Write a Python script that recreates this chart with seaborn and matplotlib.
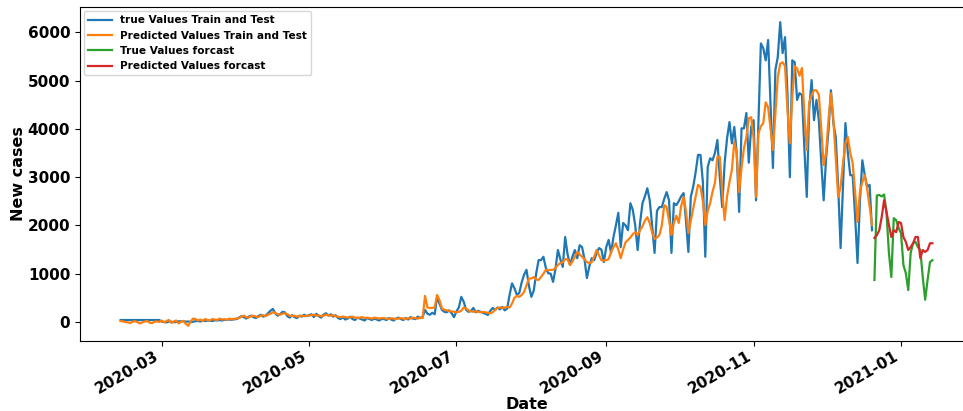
import matplotlib
matplotlib.use("Agg")
import matplotlib.pyplot as plt
import matplotlib.dates as mdates
import numpy as np
import pandas as pd
import seaborn as sns

# Daily new cases (train + test period), month by month
feb_true = [40, 40, 40, 40, 40, 40, 40, 40, 40, 40, 40, 40, 40, 40, 40, 40, 40]
feb_pred = [20, 10, 0, -10, -20, 5, 15, -5, -30, -10, 10, 20, -15, -25, 5, 10, 0]

mar_true = [5, 0, -10, 10, 5, -5, 0, 15, 10, 20, 5, 10, 0, 5, 15, 20, 10, 25, 20, 30,
            25, 20, 35, 30, 40, 30, 45, 40, 50, 45, 55]
mar_pred = [30, -10, 20, 40, -20, 10, 30, -30, 0, 20, -40, -80, 10, 70, 60, 30, 50, 20, 60, 40,
            30, 60, 50, 40, 70, 50, 60, 40, 70, 55, 65]

apr_true = [60, 90, 120, 100, 70, 110, 130, 100, 80, 120, 150, 110, 130, 180, 230, 270, 180, 130,
            160, 210, 200, 120, 90, 140, 100, 80, 130, 110, 150, 120]
apr_pred = [70, 80, 110, 130, 100, 90, 120, 130, 110, 100, 130, 140, 120, 150, 170, 200, 190, 160,
            150, 170, 180, 160, 130, 120, 130, 110, 120, 130, 120, 130]

may_true = [140, 160, 100, 170, 120, 90, 150, 180, 130, 160, 110, 140, 80, 60, 100, 50, 70, 110,
            60, 40, 90, 70, 50, 30, 80, 60, 40, 70, 50, 30, 60]
may_pred = [130, 140, 150, 130, 140, 120, 130, 150, 140, 130, 140, 120, 110, 100, 110, 100, 90, 100,
            110, 90, 80, 90, 100, 80, 90, 80, 70, 90, 80, 70, 80]

jun_true = [60, 40, 80, 50, 30, 70, 90, 60, 40, 80, 50, 100, 70, 60, 110, 80, 100, 250, 170, 150,
            190, 160, 520, 380, 250, 210, 200, 240, 180, 100]
jun_pred = [80, 70, 60, 80, 70, 60, 70, 80, 70, 60, 80, 70, 90, 80, 70, 90, 80, 540, 300, 290,
            290, 300, 560, 450, 280, 250, 240, 230, 220, 210]

jul_true = [220, 300, 520, 420, 250, 210, 230, 290, 200, 230, 210, 190, 170, 145, 230, 290, 250, 300,
            260, 310, 240, 280, 560, 800, 700, 560, 600, 820, 980, 1080, 750]
jul_pred = [200, 210, 230, 300, 280, 240, 220, 210, 220, 210, 200, 210, 200, 190, 180, 200, 250, 290,
            300, 290, 300, 310, 300, 380, 500, 540, 520, 560, 620, 760, 900]

aug_true = [520, 650, 1000, 1280, 1280, 1350, 1120, 1010, 1000, 830, 1100, 1490, 1300, 1140, 1760,
            1400, 1180, 1350, 1490, 1320, 1590, 1550, 1300, 910, 1150, 1320, 1280, 1420, 1530, 1500, 1240]
aug_pred = [900, 930, 880, 870, 930, 1000, 1080, 1070, 1080, 1080, 1120, 1180, 1220, 1240, 1300,
            1300, 1180, 1250, 1350, 1450, 1400, 1350, 1300, 1240, 1220, 1240, 1350, 1490, 1380, 1280, 1270]

sep_true = [1550, 1700, 1430, 1760, 2000, 2260, 1550, 2050, 2000, 1900, 2460, 2320, 2000, 1490, 2050,
            2460, 2600, 2770, 2520, 2000, 1430, 2300, 2380, 2380, 2550, 2690, 2520, 1430, 2460, 2420]
sep_pred = [1280, 1300, 1450, 1550, 1630, 1500, 1320, 1500, 1650, 1700, 1750, 1820, 1860, 1800, 1900,
            1980, 2100, 2170, 2050, 1850, 1720, 1750, 1800, 2000, 2420, 2380, 2100, 1800, 2050, 2200]

oct_true = [2500, 2600, 2670, 2100, 1450, 2590, 2800, 3100, 3460, 3460, 2900, 1350, 3210, 3390, 3350,
            3500, 3770, 3000, 2380, 3290, 3800, 4140, 3700, 4040, 3500, 2280, 4010, 4010, 4330, 3300, 4040]
oct_pred = [2050, 2400, 2590, 2300, 1840, 2100, 2350, 2600, 2840, 2800, 2500, 2010, 2300, 2460, 2700,
            2880, 3420, 3420, 2700, 2110, 2600, 2900, 3150, 3730, 3500, 2690, 3200, 3600, 3830, 4220, 4240]

nov_true = [4180, 2520, 4180, 5770, 5670, 5420, 5840, 4500, 3190, 5220, 5490, 6210, 5570, 5900, 4740,
            3000, 5420, 5380, 4600, 4740, 4700, 3600, 2590, 4400, 5010, 4180, 4600, 4180, 3300, 2520]
nov_pred = [3800, 2590, 3910, 4050, 4120, 4550, 4450, 4000, 3560, 4300, 5070, 5350, 5380, 5300, 4400,
            3700, 4660, 5300, 5250, 5100, 5260, 4300, 3560, 4550, 4700, 4800, 4800, 4700, 4000, 3250]

dec_true = [3400, 3970, 4800, 4120, 3830, 2800, 1530, 2800, 4120, 3500, 3040, 3040, 2200, 1220, 2500,
            3350, 3040, 2800, 2840, 1900]
dec_pred = [3500, 4200, 4740, 4200, 3400, 2590, 2800, 3300, 3700, 3830, 3500, 3290, 2700, 2070, 2700,
            2900, 3040, 2750, 2400, 2010]

# Forecast horizon (starts the day after the train/test period)
forecast_true = [870, 2620, 2630, 2600, 2640, 2260, 1430, 930, 2150, 2110, 1950, 1840, 1180, 1010,
                 660, 1430, 1630, 1660, 1550, 1490, 930, 460, 870, 1240, 1280]
forecast_pred = [1740, 1800, 1900, 2170, 2520, 2280, 2010, 1760, 1900, 1860, 2070, 2050, 1760, 1660,
                 1490, 1550, 1630, 1760, 1760, 1320, 1490, 1450, 1490, 1630, 1630]

train_start = "2020-02-13"

true_vals = (feb_true + mar_true + apr_true + may_true + jun_true + jul_true + aug_true
             + sep_true + oct_true + nov_true + dec_true)
pred_vals = (feb_pred + mar_pred + apr_pred + may_pred + jun_pred + jul_pred + aug_pred
             + sep_pred + oct_pred + nov_pred + dec_pred)

dates = pd.date_range(train_start, periods=len(true_vals), freq="D")
fc_dates = pd.date_range(dates[-1] + pd.Timedelta(days=1), periods=len(forecast_true), freq="D")

df_tt = pd.DataFrame({"Date": dates, "true": true_vals, "pred": pred_vals[:len(true_vals)]})
df_fc = pd.DataFrame({"Date": fc_dates, "true": forecast_true, "pred": forecast_pred})

plt.rcParams["font.family"] = ["DejaVu Sans"]
plt.rcParams["font.weight"] = "bold"

fig = plt.figure(figsize=(9.63, 4.11), dpi=100)
ax = fig.add_axes([80 / 963, 70 / 411, 893 / 963, 334 / 411])

lw = 1.6
sns.lineplot(data=df_tt, x="Date", y="true", ax=ax, color="#1f77b4", lw=lw,
             label="true Values Train and Test")
sns.lineplot(data=df_tt, x="Date", y="pred", ax=ax, color="#ff7f0e", lw=lw,
             label="Predicted Values Train and Test")
sns.lineplot(data=df_fc, x="Date", y="true", ax=ax, color="#2ca02c", lw=lw,
             label="True Values forcast")
sns.lineplot(data=df_fc, x="Date", y="pred", ax=ax, color="#d62728", lw=lw,
             label="Predicted Values forcast")

ax.xaxis.set_major_locator(mdates.MonthLocator(bymonth=[1, 3, 5, 7, 9, 11]))
ax.xaxis.set_major_formatter(mdates.DateFormatter("%Y-%m"))
ax.set_yticks([0, 1000, 2000, 3000, 4000, 5000, 6000])
ax.tick_params(axis="x", pad=2)

for lab in ax.get_xticklabels():
    lab.set_rotation(30)
    lab.set_ha("right")
    lab.set_fontweight("bold")
    lab.set_fontsize(11)
for lab in ax.get_yticklabels():
    lab.set_fontweight("bold")
    lab.set_fontsize(11)

ax.set_xlabel("Date", fontsize=11.5, fontweight="bold", labelpad=0)
ax.set_ylabel("New cases", fontsize=11.5, fontweight="bold", labelpad=1)

leg = ax.legend(loc="upper left", prop={"weight": "bold", "size": 7.6},
                handlelength=2.2, borderaxespad=0.4)

fig.savefig("out.png", dpi=100)
